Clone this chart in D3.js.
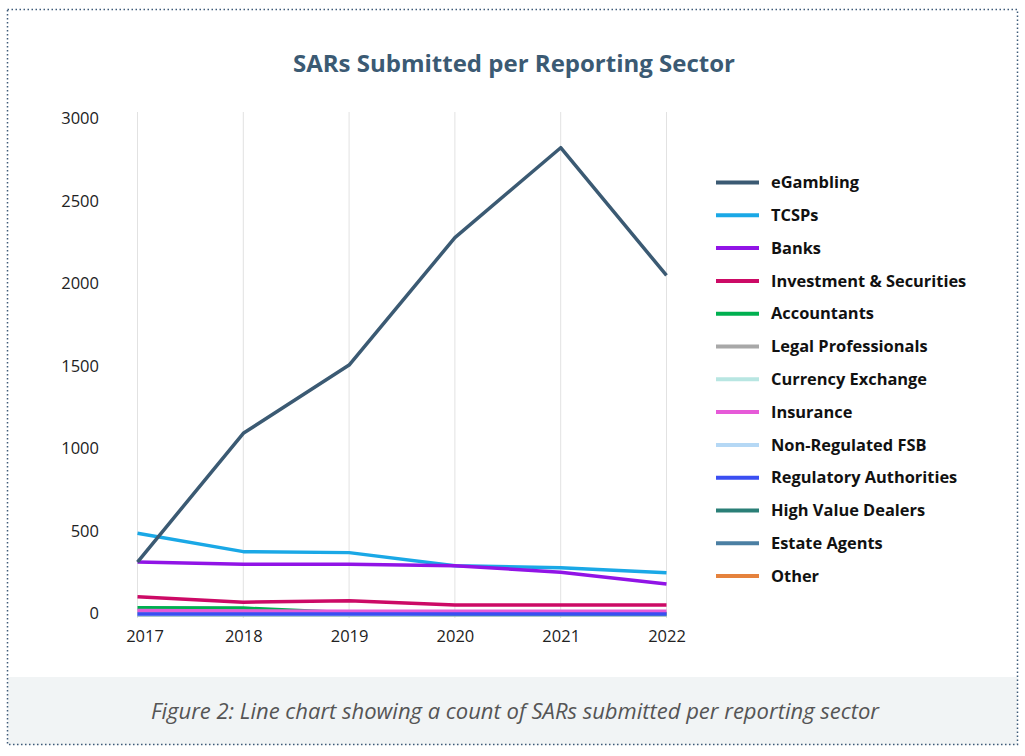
<!DOCTYPE html>
<html>
<head>
<meta charset="utf-8">
<script src="https://cdn.jsdelivr.net/npm/d3@7"></script>
<style>
  html, body { margin: 0; padding: 0; background: #fff; }
  svg { display: block; }
</style>
</head>
<body>
<svg id="chart" width="1025" height="756"></svg>
<script>
const years = ["2017", "2018", "2019", "2020", "2021", "2022"];
const yTicks = [0, 500, 1000, 1500, 2000, 2500, 3000];
const sectors = ["eGambling", "TCSPs", "Banks", "Investment & Securities", "Accountants",
  "Legal Professionals", "Currency Exchange", "Insurance", "Non-Regulated FSB",
  "Regulatory Authorities", "High Value Dealers", "Estate Agents", "Other"];
const colors = ["#3b5a73", "#1aa8e6", "#9114e6", "#cc0a66", "#00b050",
  "#a8a8a8", "#b8e6e2", "#e65ad8", "#b5d8f5",
  "#3a4ef2", "#2a7f77", "#4b7fa3", "#e5823d"];
const eGambling = [318, 1098, 1512, 2284, 2829, 2055];
const tcsps = [492, 381, 375, 296, 284, 253];
const banks = [318, 304, 304, 296, 256, 185];
const investment = [108, 74, 84, 58, 58, 58];
const accountants = [41, 39, 10, 5, 5, 5];
const legal = [22, 20, 12, 8, 8, 8];
const currency = [0, 0, 0, 0, 0, 0];
const insurance = [24, 21, 20, 20, 20, 20];
const nonRegFSB = [0, 0, 0, 0, 0, 0];
const regulatory = [3, 3, 3, 3, 3, 3];
const highValue = [0, 0, 0, 0, 0, 0];
const estateAgents = [0, 0, 0, 0, 0, 0];
const other = [0, 0, 0, 0, 0, 0];
const seriesValues = [eGambling, tcsps, banks, investment, accountants, legal, currency,
  insurance, nonRegFSB, regulatory, highValue, estateAgents, other];
// draw order (later drawn on top)
const drawOrder = [12, 11, 10, 6, 8, 4, 5, 7, 9, 3, 1, 2, 0];

const svg = d3.select("#chart");

// outer dotted frame + caption box
svg.append("rect").attr("x", 7.5).attr("y", 677).attr("width", 1010).attr("height", 68)
  .attr("fill", "#f1f4f5");
svg.append("rect").attr("x", 7.5).attr("y", 9.5).attr("width", 1010).attr("height", 735)
  .attr("fill", "none").attr("stroke", "#3d5a78").attr("stroke-width", 1.5)
  .attr("stroke-dasharray", "1.5,2.5");

svg.append("text").attr("x", 514).attr("y", 72).attr("text-anchor", "middle")
  .attr("font-family", "'Open Sans', sans-serif").attr("font-weight", 700)
  .attr("font-size", 24).attr("fill", "#3b5a73")
  .text("SARs Submitted per Reporting Sector");

svg.append("text").attr("x", 515).attr("y", 719).attr("text-anchor", "middle")
  .attr("font-family", "'Open Sans', sans-serif").attr("font-style", "italic")
  .attr("font-size", 22).attr("fill", "#555")
  .text("Figure 2: Line chart showing a count of SARs submitted per reporting sector");

const x = d3.scalePoint().domain(years).range([137.5, 666.5]);
const y = d3.scaleLinear().domain([0, 3000]).range([614.5, 119.5]);

// vertical gridlines
svg.append("g").selectAll("line").data(years).join("line")
  .attr("x1", d => x(d)).attr("x2", d => x(d))
  .attr("y1", 112).attr("y2", 618)
  .attr("stroke", "#e2e2e2").attr("stroke-width", 1);

// y axis
const yAxis = svg.append("g").attr("transform", "translate(99,0)")
  .call(d3.axisLeft(y).tickValues(yTicks).tickSize(0).tickPadding(0).tickFormat(d3.format("d")));
yAxis.select(".domain").remove();
yAxis.selectAll("text").attr("font-family", "'Open Sans', sans-serif")
  .attr("font-size", 16.5).attr("fill", "#222").attr("dy", "0.25em");

// x axis
const xAxis = svg.append("g").attr("transform", "translate(0,627)")
  .call(d3.axisBottom(x).tickSize(0).tickPadding(0));
xAxis.select(".domain").remove();
xAxis.selectAll("text").attr("font-family", "'Open Sans', sans-serif")
  .attr("font-size", 16.5).attr("fill", "#222").attr("dy", "0.9em")
  .attr("dx", d => d === "2017" ? 7 : 0);

// lines
const line = d3.line().x((d, i) => x(years[i])).y(d => y(d));
svg.append("g").selectAll("path").data(drawOrder).join("path")
  .attr("d", i => line(seriesValues[i]))
  .attr("fill", "none").attr("stroke", i => colors[i])
  .attr("stroke-width", 3.5).attr("stroke-linejoin", "round");

// legend
const legend = svg.append("g").selectAll("g").data(sectors).join("g")
  .attr("transform", (d, i) => `translate(716,${182.5 + i * 32.8})`);
legend.append("line").attr("x1", 0).attr("x2", 43).attr("y1", 0).attr("y2", 0)
  .attr("stroke", (d, i) => colors[i]).attr("stroke-width", 4);
legend.append("text").attr("x", 55).attr("y", 0).attr("dy", "0.35em")
  .attr("font-family", "'Open Sans', sans-serif").attr("font-weight", 700)
  .attr("font-size", 16.4).attr("fill", "#111").text(d => d);
</script>
</body>
</html>
